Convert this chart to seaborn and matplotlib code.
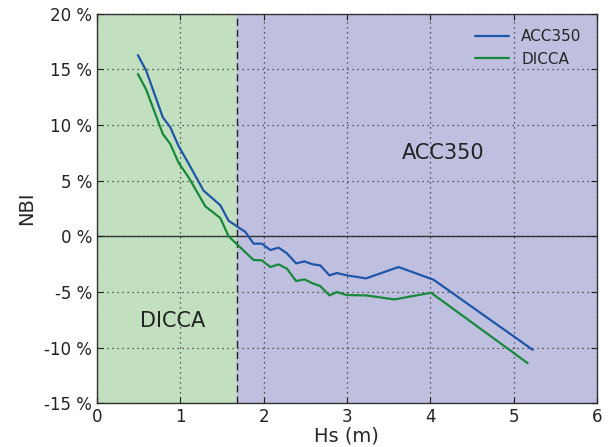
import numpy as np
import pandas as pd
import matplotlib
matplotlib.use('Agg')
import matplotlib.pyplot as plt
import seaborn as sns
from matplotlib.ticker import FuncFormatter

# Hs bins (m) and NBI (%)
acc_hs = [0.49, 0.59, 0.79, 0.88, 0.98, 1.08, 1.28, 1.48, 1.58, 1.78, 1.88, 1.98,
          2.08, 2.18, 2.28, 2.39, 2.49, 2.59, 2.68, 2.79, 2.88, 3.0, 3.23, 3.62,
          4.04, 5.23]
acc_nbi = [16.3, 14.9, 10.7, 9.8, 8.1, 6.8, 4.1, 2.8, 1.4, 0.4, -0.66, -0.66,
           -1.23, -1.02, -1.53, -2.43, -2.25, -2.52, -2.61, -3.51, -3.3, -3.51,
           -3.78, -2.76, -3.9, -10.2]

dicca_hs = [0.49, 0.59, 0.79, 0.88, 0.98, 1.10, 1.30, 1.48, 1.58, 1.88, 1.98,
            2.08, 2.18, 2.28, 2.39, 2.49, 2.59, 2.68, 2.79, 2.88, 3.0, 3.23,
            3.57, 4.01, 5.17]
dicca_nbi = [14.6, 13.2, 9.2, 8.3, 6.6, 5.3, 2.7, 1.65, 0.0, -2.13, -2.16,
             -2.76, -2.52, -2.91, -4.02, -3.87, -4.23, -4.47, -5.31, -5.01,
             -5.28, -5.31, -5.67, -5.07, -11.4]

split_hs = 1.68

df = pd.concat([
    pd.DataFrame({'Hs': acc_hs, 'NBI': acc_nbi, 'model': 'ACC350'}),
    pd.DataFrame({'Hs': dicca_hs, 'NBI': dicca_nbi, 'model': 'DICCA'}),
])

sns.set_style('ticks')
plt.rcParams['font.family'] = ['DejaVu Sans']

fig = plt.figure(figsize=(6.14, 4.47), dpi=100)
ax = fig.add_axes([0.158, 0.098, 0.814, 0.871])

ax.axvspan(0, split_hs, color='#c2e0c0', zorder=0)
ax.axvspan(split_hs, 6, color='#bfc0e0', zorder=0)

sns.lineplot(data=df, x='Hs', y='NBI', hue='model', sort=False,
             palette={'ACC350': '#1f56a8', 'DICCA': '#18893a'},
             linewidth=1.6, ax=ax, zorder=5)

ax.axhline(0, color='#333333', linewidth=1.0, zorder=2)
ax.axvline(split_hs, color='#222222', linewidth=1.0, linestyle=(0, (5, 3)), zorder=2)

ax.set_xlim(0, 6)
ax.set_ylim(-15, 20)
ax.set_xticks(range(0, 7))
ax.set_yticks(range(-15, 21, 5))
ax.yaxis.set_major_formatter(FuncFormatter(lambda v, p: '%d %%' % v))
ax.grid(True, color='#333333', linestyle=(0, (1, 3)), linewidth=0.9, zorder=4)
ax.set_axisbelow(False)
ax.tick_params(direction='in', length=4, labelsize=12, colors='#222222',
               top=True, right=True)
for s in ax.spines.values():
    s.set_color('#333333')
    s.set_linewidth(1.0)

ax.set_xlabel('Hs (m)', fontsize=14, labelpad=0)
ax.set_ylabel('NBI', fontsize=14, labelpad=6)

ax.text(4.15, 7.5, 'ACC350', fontsize=15, ha='center', va='center', color='#222222', zorder=3)
ax.text(0.91, -7.6, 'DICCA', fontsize=15, ha='center', va='center', color='#222222', zorder=3)

leg = ax.legend(loc='upper right', frameon=False, fontsize=11, title=None,
                handlelength=2.2, borderaxespad=0.6)

fig.savefig('out.png', dpi=100)
